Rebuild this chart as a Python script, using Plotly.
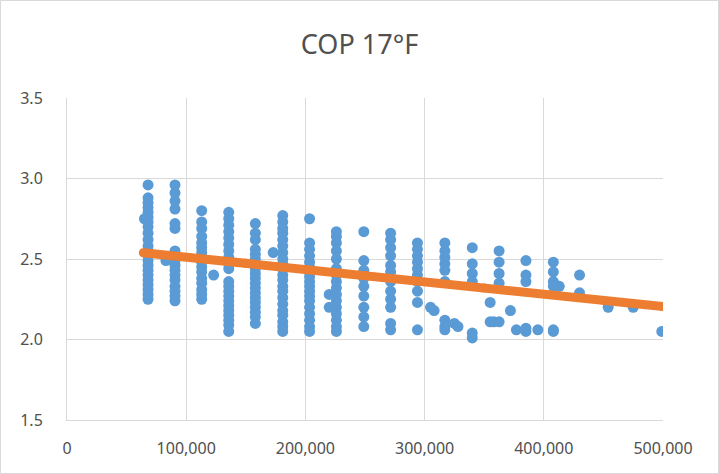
import plotly.graph_objects as go

# Blue measured points, grouped in vertical columns (x position, y values)
col_x = [68000, 90600, 113000, 135700, 158000, 181000, 203500, 226000, 249000,
         271500, 294000, 317000, 340000, 362500, 385000, 408000, 430000]
col_y = [
    [2.96, 2.88, 2.85, 2.82, 2.79, 2.76, 2.73, 2.70, 2.66, 2.62, 2.58, 2.55, 2.52, 2.49, 2.46, 2.43, 2.40, 2.37, 2.34, 2.31, 2.28, 2.25],
    [2.96, 2.91, 2.86, 2.81, 2.72, 2.69, 2.55, 2.52, 2.49, 2.46, 2.43, 2.40, 2.37, 2.33, 2.30, 2.27, 2.24],
    [2.80, 2.73, 2.69, 2.64, 2.60, 2.57, 2.54, 2.51, 2.48, 2.45, 2.42, 2.38, 2.35, 2.31, 2.28, 2.25],
    [2.79, 2.75, 2.71, 2.67, 2.63, 2.59, 2.55, 2.51, 2.47, 2.44, 2.36, 2.33, 2.30, 2.27, 2.24, 2.21, 2.18, 2.15, 2.12, 2.09, 2.05],
    [2.72, 2.66, 2.62, 2.56, 2.53, 2.50, 2.47, 2.44, 2.41, 2.38, 2.35, 2.32, 2.29, 2.26, 2.23, 2.20, 2.17, 2.14, 2.10],
    [2.77, 2.73, 2.69, 2.66, 2.62, 2.58, 2.54, 2.50, 2.47, 2.44, 2.40, 2.37, 2.33, 2.30, 2.26, 2.22, 2.18, 2.15, 2.11, 2.08, 2.05],
    [2.75, 2.60, 2.56, 2.52, 2.48, 2.45, 2.42, 2.39, 2.36, 2.33, 2.30, 2.27, 2.24, 2.20, 2.16, 2.12, 2.08, 2.05],
    [2.67, 2.64, 2.60, 2.55, 2.50, 2.44, 2.40, 2.36, 2.32, 2.28, 2.24, 2.20, 2.16, 2.12, 2.08, 2.05],
    [2.67, 2.49, 2.43, 2.38, 2.33, 2.27, 2.20, 2.14, 2.08],
    [2.66, 2.62, 2.57, 2.52, 2.46, 2.42, 2.36, 2.30, 2.25, 2.20, 2.10, 2.06],
    [2.60, 2.56, 2.52, 2.48, 2.44, 2.40, 2.36, 2.30, 2.23, 2.06],
    [2.60, 2.55, 2.51, 2.47, 2.43, 2.36, 2.12, 2.08, 2.06],
    [2.57, 2.47, 2.41, 2.36, 2.04, 2.01],
    [2.55, 2.48, 2.41, 2.35, 2.11],
    [2.49, 2.40, 2.36, 2.07, 2.05],
    [2.48, 2.42, 2.36, 2.33, 2.06, 2.05],
    [2.40, 2.29],
]
# Blue points that sit between the columns
extra_x = [65000, 83000, 123000, 173000, 220000, 220000, 305000, 308000, 325000, 328000,
           355000, 355000, 358000, 372000, 377000, 395000, 413000, 454000, 475000, 499000]
extra_y = [2.75, 2.49, 2.40, 2.54, 2.20, 2.28, 2.20, 2.18, 2.10, 2.08,
           2.23, 2.11, 2.11, 2.18, 2.06, 2.06, 2.33, 2.20, 2.20, 2.05]

# Orange trend points
trend_x = [64000, 150000, 250000, 350000, 450000, 500000]
trend_y = [2.539, 2.473, 2.397, 2.320, 2.243, 2.205]

x_ticks = [0, 100000, 200000, 300000, 400000, 500000]
x_labels = ["0", "100,000", "200,000", "300,000", "400,000", "500,000"]
y_ticks = [1.5, 2.0, 2.5, 3.0, 3.5]
y_labels = ["1.5", "2.0", "2.5", "3.0", "3.5"]

blue_x, blue_y = [], []
for cx, ys in zip(col_x, col_y):
    for v in ys:
        blue_x.append(cx)
        blue_y.append(v)
blue_x += extra_x
blue_y += extra_y

BLUE = "#5B9BD5"
ORANGE = "#ED7D31"
GRID = "#D9D9D9"
TEXT = "#505050"

fig = go.Figure()
fig.add_trace(go.Scatter(x=blue_x, y=blue_y, mode="markers",
                         marker=dict(color=BLUE, size=11, line=dict(width=0)),
                         showlegend=False, hoverinfo="skip"))
fig.add_trace(go.Scatter(x=trend_x, y=trend_y, mode="lines+markers",
                         line=dict(color=ORANGE, width=9),
                         marker=dict(color=ORANGE, size=9, line=dict(width=0)),
                         showlegend=False, hoverinfo="skip"))

W, H = 719, 474
ml, mr, mt, mb = 67, 56, 98, 54
pw, ph = W - ml - mr, H - mt - mb

fig.update_layout(
    width=W, height=H,
    margin=dict(l=ml, r=mr, t=mt, b=mb),
    paper_bgcolor="white", plot_bgcolor="white",
    font=dict(family="Noto Sans", color=TEXT),
    title=dict(text="COP 17°F", x=0.5, xanchor="center", y=1 - 45 / H, yanchor="middle",
               font=dict(size=27, color=TEXT, family="Noto Sans")),
    xaxis=dict(range=[0, 500000], tickvals=x_ticks, ticktext=x_labels,
               showgrid=True, gridcolor=GRID, gridwidth=1, zeroline=False,
               showline=True, linecolor=GRID, linewidth=1,
               ticks="", ticklabelstandoff=14, tickfont=dict(size=16, color=TEXT)),
    yaxis=dict(range=[1.5, 3.5], tickvals=y_ticks, ticktext=y_labels,
               showgrid=True, gridcolor=GRID, gridwidth=1, zeroline=False,
               showline=True, linecolor=GRID, linewidth=1,
               ticks="", ticklabelstandoff=20, tickfont=dict(size=16, color=TEXT)),
    shapes=[dict(type="rect", xref="paper", yref="paper",
                 x0=(-ml + 0.5) / pw, x1=1 + (mr - 0.5) / pw,
                 y0=(-mb + 0.5) / ph, y1=1 + (mt - 0.5) / ph,
                 line=dict(color=GRID, width=1), layer="below")],
)

fig.write_html("out.html")
